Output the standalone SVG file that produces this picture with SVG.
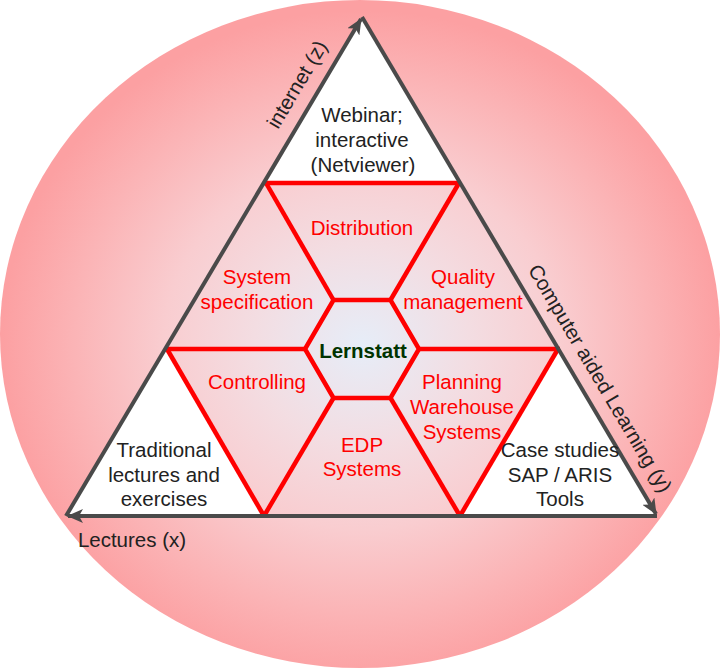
<svg xmlns="http://www.w3.org/2000/svg" width="720" height="669" viewBox="0 0 720 669">
<defs>
  <radialGradient id="bg" gradientUnits="userSpaceOnUse" cx="362" cy="345" r="360" gradientTransform="translate(362 345) scale(1 0.93) translate(-362 -345)">
    <stop offset="0" stop-color="#e6edf8"/>
    <stop offset="0.3" stop-color="#f3dde2"/>
    <stop offset="0.55" stop-color="#f9cdd0"/>
    <stop offset="0.8" stop-color="#fbb4b6"/>
    <stop offset="1" stop-color="#fca0a2"/>
  </radialGradient>
  <marker id="arr" markerUnits="userSpaceOnUse" viewBox="0 0 16 14" refX="15" refY="7" markerWidth="16" markerHeight="14" orient="auto">
    <path d="M0,0 L16,7 L0,14 L4,7 z" fill="#4a4a4a"/>
  </marker>
  <style>
    text { font-family: "Liberation Sans", Arial, sans-serif; font-size: 20.5px; text-anchor: middle; }
    .dark { fill: #222222; }
    .red { fill: #ff0000; }
    .title { fill: #003300; font-weight: bold; }
    .rl { stroke: #ff0000; stroke-width: 4.5; fill: none; stroke-linecap: butt; }
    .ax { stroke: #4a4a4a; stroke-width: 4; fill: none; marker-end: url(#arr); }
  </style>
</defs>
<g id="background">
  <ellipse cx="360" cy="334" rx="360" ry="334" fill="url(#bg)"/>
  <polygon points="362,17 266,183 459,183" fill="#ffffff"/>
  <polygon points="66,516 167,349 264,516" fill="#ffffff"/>
  <polygon points="460,516 558,349 657,516" fill="#ffffff"/>
</g>
<g id="grid">
  <path class="rl" d="M264,183 H461"/>
  <path class="rl" d="M266,183 L333.5,300"/>
  <path class="rl" d="M390.5,398 L460,516"/>
  <path class="rl" d="M459,183 L390.5,300"/>
  <path class="rl" d="M333.5,398 L264,516"/>
  <path class="rl" d="M165,349 H305"/>
  <path class="rl" d="M419,349 H560"/>
  <path class="rl" d="M167,349 L264,516"/>
  <path class="rl" d="M558,349 L460,516"/>
  <polygon class="rl" points="333.5,300 390.5,300 419,349 390.5,398 333.5,398 305,349"/>
</g>
<g id="connectors">
  <path class="ax" d="M657,516 L68,516"/>
  <path class="ax" d="M66,516 L361,19"/>
  <path class="ax" d="M362,17 L656,514"/>
</g>
<g id="node-webinar">
  <text class="dark" x="362" y="122">Webinar;</text>
  <text class="dark" x="362" y="147">interactive</text>
  <text class="dark" x="363" y="172">(Netviewer)</text>
</g>
<g id="node-distribution"><text class="red" x="362" y="235">Distribution</text></g>
<g id="node-system-spec">
  <text class="red" x="257" y="284">System</text>
  <text class="red" x="257" y="309">specification</text>
</g>
<g id="node-quality">
  <text class="red" x="463" y="284">Quality</text>
  <text class="red" x="463" y="309">management</text>
</g>
<g id="node-lernstatt"><text class="title" x="363" y="358">Lernstatt</text></g>
<g id="node-controlling"><text class="red" x="257" y="389">Controlling</text></g>
<g id="node-planning">
  <text class="red" x="462" y="389">Planning</text>
  <text class="red" x="462" y="414">Warehouse</text>
  <text class="red" x="462" y="439">Systems</text>
</g>
<g id="node-edp">
  <text class="red" x="362" y="452">EDP</text>
  <text class="red" x="362" y="476">Systems</text>
</g>
<g id="node-traditional">
  <text class="dark" x="164" y="457">Traditional</text>
  <text class="dark" x="164" y="482">lectures and</text>
  <text class="dark" x="164" y="506">exercises</text>
</g>
<g id="node-case">
  <text class="dark" x="560" y="457">Case studies</text>
  <text class="dark" x="560" y="482">SAP / ARIS</text>
  <text class="dark" x="560" y="506">Tools</text>
</g>
<g id="label-x"><text class="dark" x="132" y="547">Lectures (x)</text></g>
<g id="label-z"><text class="dark" transform="translate(303 88) rotate(-59.3)">internet (z)</text></g>
<g id="label-y"><text class="dark" transform="translate(594 382) rotate(59.3)">Computer aided Learning (y)</text></g>
</svg>
